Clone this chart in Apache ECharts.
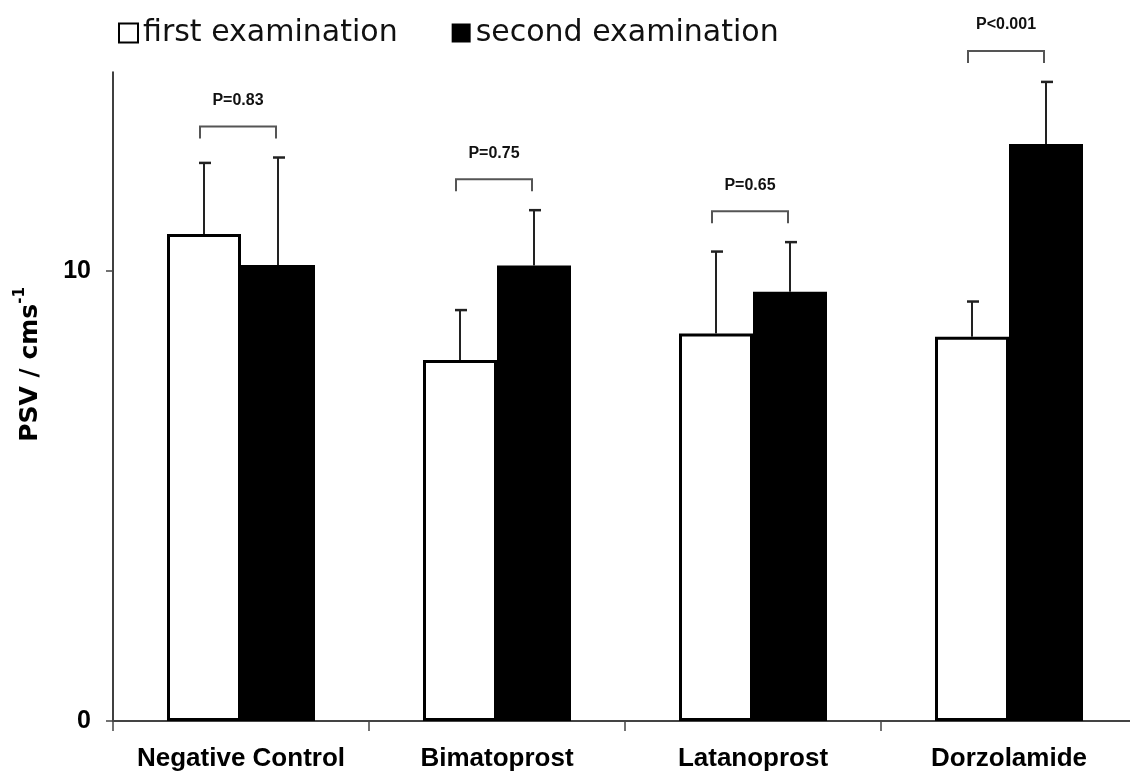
<!DOCTYPE html>
<html>
<head>
<meta charset="utf-8">
<script src="https://cdn.jsdelivr.net/npm/echarts@6/dist/echarts.min.js"></script>
<style>
html,body{margin:0;padding:0;background:#fff;}
#chart{width:1130px;height:775px;}
</style>
</head>
<body>
<div id="chart"></div>
<script>
// ---- data ----
const categories = ['Negative Control', 'Bimatoprost', 'Latanoprost', 'Dorzolamide'];
const seriesNames = ['first examination', 'second examination'];
const firstMean = [10.82, 8.02, 8.61, 8.54];
const firstSD = [1.58, 1.11, 1.82, 0.78];
const secondMean = [10.13, 10.12, 9.54, 12.82];
const secondSD = [2.39, 1.23, 1.10, 1.38];
const pLabels = ['P=0.83', 'P=0.75', 'P=0.65', 'P<0.001'];
const yTicks = [0, 10];
const yMax = 14.42;

// ---- style constants ----
const FONT = '"Liberation Sans", Arial, sans-serif';
const WIDE = '"DejaVu Sans", "Liberation Sans", sans-serif';
const BAR_W = 74;

const chart = echarts.init(document.getElementById('chart'), null, {renderer: 'canvas'});

function errRender(offsetSign) {
  return function (params, api) {
    const idx = api.value(0);
    const mean = api.value(1);
    const sd = api.value(2);
    const cx = api.coord([idx, 0])[0] + offsetSign * BAR_W / 2;
    const yTop = api.coord([idx, mean])[1];
    const yErr = api.coord([idx, mean + sd])[1];
    return {
      type: 'group',
      children: [
        {type: 'line', shape: {x1: cx, y1: yTop, x2: cx, y2: yErr}, style: {stroke: '#222', lineWidth: 2}},
        {type: 'line', shape: {x1: cx - 5, y1: yErr, x2: cx + 7, y2: yErr}, style: {stroke: '#222', lineWidth: 2.5}}
      ]
    };
  };
}

const errFirst = categories.map((c, i) => [i, firstMean[i], firstSD[i]]);
const errSecond = categories.map((c, i) => [i, secondMean[i], secondSD[i]]);
const bracketData = categories.map((c, i) => [i, Math.max(firstMean[i] + firstSD[i], secondMean[i] + secondSD[i]), pLabels[i]]);

const option = {
  backgroundColor: '#fff',
  animation: false,
  textStyle: {fontFamily: FONT},
  legend: {
    left: 113,
    top: 13,
    icon: 'rect',
    itemWidth: 19,
    itemHeight: 19,
    itemGap: 54,
    textStyle: {fontSize: 30, color: '#111', fontFamily: WIDE},
    data: [
      {name: seriesNames[0], itemStyle: {color: '#fff', borderColor: '#000', borderWidth: 2}},
      {name: seriesNames[1], itemStyle: {color: '#000'}}
    ]
  },
  grid: {left: 113, width: 1024, top: 72, bottom: 54, containLabel: false, outerBoundsMode: 'none'},
  xAxis: {
    type: 'category',
    data: categories,
    axisLine: {lineStyle: {color: '#444', width: 2}},
    axisTick: {show: true, interval: 0, length: 10, lineStyle: {color: '#444', width: 1.5}},
    axisLabel: {interval: 0, fontSize: 26, fontWeight: 'bold', color: '#000', margin: 25, fontFamily: FONT}
  },
  yAxis: {
    type: 'value',
    min: 0,
    max: yMax,
    name: '{a|PSV / cms}{b|-1}',
    nameLocation: 'middle',
    nameGap: 70,
    nameTextStyle: {
      padding: [0, 0, 0, 64],
      rich: {
        a: {fontSize: 25, fontWeight: 'bold', color: '#000', fontFamily: WIDE, lineHeight: 30, verticalAlign: 'bottom'},
        b: {fontSize: 15, fontWeight: 'bold', color: '#000', fontFamily: WIDE, lineHeight: 30, verticalAlign: 'top'}
      }
    },
    splitLine: {show: false},
    axisLine: {show: true, lineStyle: {color: '#000', width: 1.5}},
    axisTick: {show: true, length: 7, customValues: yTicks, lineStyle: {color: '#444', width: 1.5}},
    axisLabel: {fontSize: 25, fontWeight: 'bold', color: '#000', margin: 22, customValues: yTicks, fontFamily: FONT}
  },
  series: [
    {
      name: seriesNames[0], type: 'bar', data: firstMean, barWidth: BAR_W, barGap: '0%',
      itemStyle: {color: '#fff', borderColor: '#000', borderWidth: 3}
    },
    {
      name: seriesNames[1], type: 'bar', data: secondMean, barWidth: BAR_W, barGap: '0%',
      itemStyle: {color: '#000'}
    },
    {type: 'custom', clip: false, renderItem: errRender(-1), data: errFirst, z: 3},
    {type: 'custom', clip: false, renderItem: errRender(1), data: errSecond, z: 3},
    {
      type: 'custom', clip: false, z: 3, data: bracketData,
      renderItem: function (params, api) {
        const idx = api.value(0);
        const top = api.value(1);
        const cx = api.coord([idx, 0])[0];
        const y = api.coord([idx, top])[1] - 31;
        const x1 = cx - BAR_W / 2 - 4;
        const x2 = cx + BAR_W / 2 - 2;
        return {
          type: 'group',
          children: [
            {type: 'polyline', shape: {points: [[x1, y + 12], [x1, y], [x2, y], [x2, y + 12]]}, style: {stroke: '#555', lineWidth: 2, fill: null}},
            {type: 'text', style: {text: pLabels[idx], x: (x1 + x2) / 2, y: y - 26, align: 'center', verticalAlign: 'middle', font: 'bold 16px ' + FONT, fill: '#111'}}
          ]
        };
      }
    }
  ]
};
chart.setOption(option);
</script>
</body>
</html>
